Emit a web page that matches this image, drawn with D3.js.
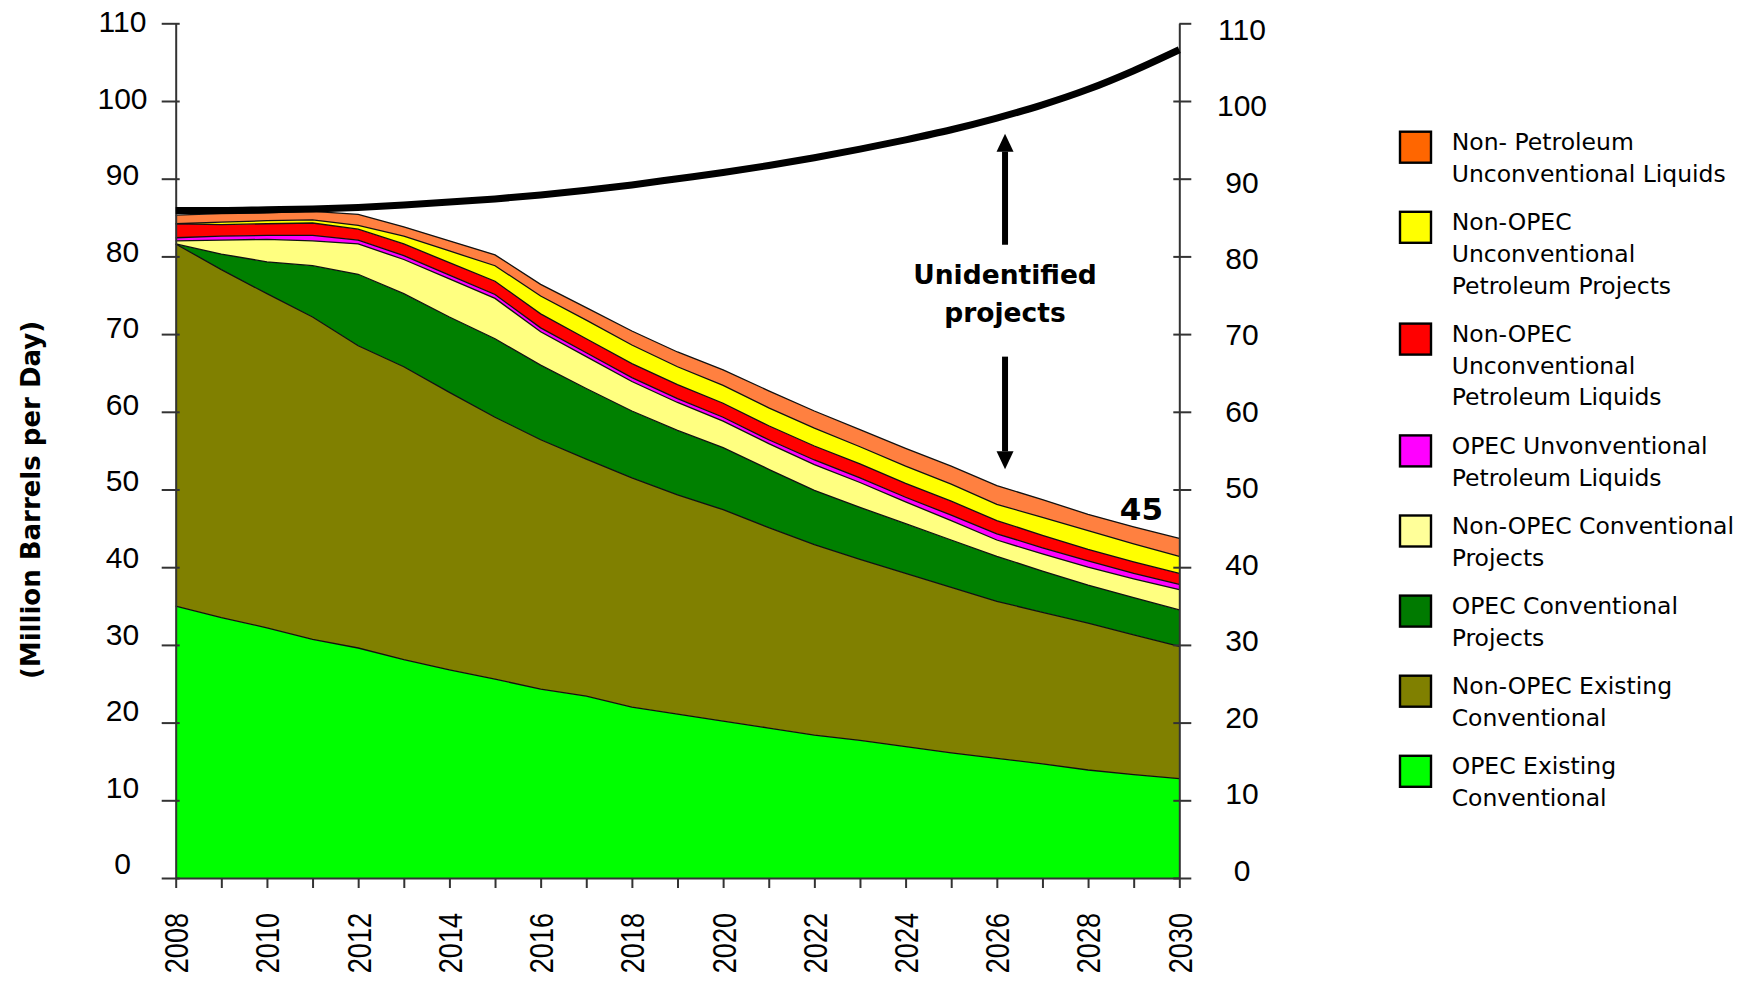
<!DOCTYPE html>
<html><head><meta charset="utf-8">
<script src="https://cdn.jsdelivr.net/npm/d3@7"></script>
<style>
html,body{margin:0;padding:0;background:#fff;}
svg{display:block;}
</style></head>
<body>
<svg id="chart" width="1754" height="982"></svg>
<script>
// ---------- DATA ----------
const years = [2008,2009,2010,2011,2012,2013,2014,2015,2016,2017,2018,2019,2020,2021,2022,2023,2024,2025,2026,2027,2028,2029,2030];
// stacked from bottom to top (million barrels per day)
const opecExisting        = [35.0,33.5,32.2,30.7,29.6,28.1,26.8,25.6,24.3,23.4,22.0,21.1,20.2,19.3,18.4,17.7,16.9,16.1,15.4,14.7,13.9,13.3,12.8];
const nonOpecExisting     = [46.6,44.8,43.0,41.5,38.9,37.7,35.7,33.7,32.1,30.5,29.5,28.2,27.2,25.8,24.5,23.3,22.3,21.3,20.2,19.5,18.9,18.0,17.0];
const opecConvProjects    = [0.0,2.0,4.1,6.6,9.2,9.4,9.7,10.1,9.6,9.1,8.6,8.3,8.0,7.5,7.0,6.7,6.4,6.1,5.8,5.3,4.9,4.8,4.7];
const nonOpecConvProjects = [0.4,1.8,2.9,3.2,3.9,4.4,4.9,5.2,4.3,4.1,3.8,3.6,3.4,3.3,3.3,3.2,2.8,2.5,2.1,2.2,2.3,2.4,2.6];
const opecUnconvLiquids   = [0.4,0.5,0.5,0.7,0.5,0.5,0.5,0.5,0.5,0.5,0.5,0.5,0.5,0.5,0.6,0.6,0.6,0.7,0.8,0.8,0.8,0.7,0.7];
const nonOpecUnconvLiquids= [1.8,1.5,1.5,1.6,1.4,1.5,1.6,1.7,1.8,1.8,1.8,1.8,1.8,1.8,1.8,1.8,1.8,1.8,1.7,1.6,1.5,1.5,1.4];
const nonOpecUnconvProjects=[0.0,0.3,0.4,0.4,0.5,1.0,1.5,2.0,2.3,2.4,2.4,2.3,2.3,2.3,2.3,2.2,2.2,2.2,2.1,2.3,2.4,2.3,2.2];
const nonPetroleumUnconv  = [1.1,1.1,1.0,1.1,1.4,1.2,1.3,1.4,1.5,1.6,1.8,1.9,2.0,2.2,2.2,2.2,2.3,2.3,2.4,2.3,2.1,2.2,2.3];
// demand curve
const demand = [85.9,85.9,86.0,86.1,86.3,86.6,87.0,87.4,87.9,88.5,89.2,90.0,90.8,91.7,92.7,93.8,95.0,96.3,97.8,99.5,101.5,103.9,106.6];

const seriesKeys = ["opecExisting","nonOpecExisting","opecConvProjects","nonOpecConvProjects","opecUnconvLiquids","nonOpecUnconvLiquids","nonOpecUnconvProjects","nonPetroleumUnconv"];
const seriesValues = [opecExisting,nonOpecExisting,opecConvProjects,nonOpecConvProjects,opecUnconvLiquids,nonOpecUnconvLiquids,nonOpecUnconvProjects,nonPetroleumUnconv];
const areaColors   = ["#00FF00","#808000","#008000","#FFFF80","#FF00FF","#FF0000","#FFFF00","#FF8040"];
const legendColors = ["#00FF00","#808000","#007A00","#FFFF99","#FF00FF","#FF0000","#FFFF00","#FF6600"];
const legendLabels = [
  ["OPEC Existing","Conventional"],
  ["Non-OPEC Existing","Conventional"],
  ["OPEC Conventional","Projects"],
  ["Non-OPEC Conventional","Projects"],
  ["OPEC Unvonventional","Petroleum Liquids"],
  ["Non-OPEC","Unconventional","Petroleum Liquids"],
  ["Non-OPEC","Unconventional","Petroleum Projects"],
  ["Non- Petroleum","Unconventional Liquids"]
];
const yTickValues = [0,10,20,30,40,50,60,70,80,90,100,110];
const xTickLabels = [2008,2010,2012,2014,2016,2018,2020,2022,2024,2026,2028,2030];
const yTitle = "(Million Barrels per Day)";
const annotationLines = ["Unidentified","projects"];
const endLabel = "45";

// ---------- FONTS ----------
const numFont = "'Liberation Sans',Arial,sans-serif";
const txtFont = "'DejaVu Sans',Verdana,sans-serif";

// ---------- SCALES ----------
const svg = d3.select("#chart");
const x = d3.scaleLinear().domain([2008,2030]).range([175.7,1179.3]);
const y = d3.scaleLinear().domain([0,110]).range([878,23.3]);
const yLabLeft = d3.scaleLinear().domain([0,110]).range([863,20.7]);
const yLabRight = d3.scaleLinear().domain([0,110]).range([869.3,28.3]);

// ---------- STACK ----------
const table = years.map((yr,i)=>{const o={year:yr}; seriesKeys.forEach((k,j)=>o[k]=seriesValues[j][i]); return o;});
const stacked = d3.stack().keys(seriesKeys)(table);

const area = d3.area().x(d=>x(d.data.year)).y0(d=>y(d[0])).y1(d=>y(d[1]));
svg.append("g").selectAll("path").data(stacked).join("path")
  .attr("d",area).attr("fill",(d,i)=>areaColors[i]);
const topLine = d3.line().x(d=>x(d.data.year)).y(d=>y(d[1]));
svg.append("g").selectAll("path").data(stacked).join("path")
  .attr("d",topLine).attr("fill","none").attr("stroke","#111").attr("stroke-width",1.3);

// ---------- AXES ----------
const axL = svg.append("g").attr("transform",`translate(${x(2008)},0)`)
  .call(d3.axisLeft(y).tickValues(yTickValues).tickSizeInner(14).tickSizeOuter(0).tickFormat(""));
axL.selectAll(".tick line").attr("x2",-14).attr("x1",4);
const axR = svg.append("g").attr("transform",`translate(${x(2030)},0)`)
  .call(d3.axisRight(y).tickValues(yTickValues).tickSizeInner(12).tickSizeOuter(0).tickFormat(""));
axR.selectAll(".tick line").attr("x1",d=>d===110?0:-6);
const axB = svg.append("g").attr("transform",`translate(0,${y(0)})`)
  .call(d3.axisBottom(x).tickValues(years).tickSizeInner(10).tickSizeOuter(0).tickFormat(""));
[axL,axR,axB].forEach(g=>{
  g.select(".domain").attr("stroke","#333").attr("stroke-width",2);
  g.selectAll(".tick line").attr("stroke","#333").attr("stroke-width",2);
});

// tick labels
const labL = svg.append("g").attr("transform","translate(122.5,0)")
  .call(d3.axisLeft(yLabLeft).tickValues(yTickValues).tickSize(0).tickFormat(d3.format("d")));
labL.select(".domain").remove();
labL.selectAll("text").attr("x",0).attr("dy","0.36em").style("text-anchor","middle")
  .style("font-family",numFont).style("font-size","30px").attr("fill","#000");
const labR = svg.append("g").attr("transform","translate(1242,0)")
  .call(d3.axisRight(yLabRight).tickValues(yTickValues).tickSize(0).tickFormat(d3.format("d")));
labR.select(".domain").remove();
labR.selectAll("text").attr("x",0).attr("dy","0.36em").style("text-anchor","middle")
  .style("font-family",numFont).style("font-size","30px").attr("fill","#000");
const labB = svg.append("g").attr("transform","translate(0,913)")
  .call(d3.axisBottom(x).tickValues(xTickLabels).tickSize(0).tickFormat(d3.format("d")));
labB.select(".domain").remove();
labB.selectAll("text").attr("x",0).attr("y",0).attr("dy","0.36em").attr("transform","rotate(-90) scale(0.82,1)")
  .style("text-anchor","end").style("font-family",numFont).style("font-size","33px").attr("fill","#000");

// ---------- DEMAND LINE ----------
const demLine = d3.line().x((d,i)=>x(years[i])).y(d=>y(d)).curve(d3.curveMonotoneX);
svg.append("path").datum(demand).attr("d",demLine).attr("fill","none")
  .attr("stroke","#000").attr("stroke-width",7);

// ---------- Y TITLE ----------
svg.append("text").attr("transform","translate(40,500) rotate(-90)")
  .attr("text-anchor","middle").style("font-family",txtFont).style("font-weight","bold")
  .style("font-size","26px").text(yTitle);

// ---------- ANNOTATION ----------
const arrowX = x(2026.18);
function arrow(fromV,toV){
  const y0=y(fromV), y1=y(toV), dir = y1<y0?-1:1, hl=18, hw=8.5;
  svg.append("line").attr("x1",arrowX).attr("x2",arrowX).attr("y1",y0).attr("y2",y1-dir*hl)
    .attr("stroke","#000").attr("stroke-width",6);
  svg.append("path").attr("d",`M${arrowX},${y1} L${arrowX-hw},${y1-dir*hl} L${arrowX+hw},${y1-dir*hl} Z`).attr("fill","#000");
}
arrow(81.5,95.8);
arrow(67.1,52.6);
svg.append("g").selectAll("text").data(annotationLines).join("text")
  .attr("x",arrowX).attr("y",(d,i)=>y(76.5)+i*38.4).attr("text-anchor","middle")
  .style("font-family",txtFont).style("font-weight","bold").style("font-size","26.5px").text(d=>d);
svg.append("text").attr("x",x(2029.17)).attr("y",y(46.1)).attr("text-anchor","middle")
  .style("font-family",txtFont).style("font-weight","bold").style("font-size","31px").text(endLabel);

// ---------- LEGEND ----------
const lineH = 31.7, gap = 16.7;
const items = legendLabels.map((lines,i)=>({lines, color:legendColors[i]})).reverse();
let legendTop = 130.7;
items.forEach(it=>{it.top=legendTop; legendTop += it.lines.length*lineH + gap;});
const lg = svg.append("g").selectAll("g").data(items).join("g")
  .attr("transform",d=>`translate(1399,${d.top})`);
lg.append("rect").attr("x",1).attr("y",1).attr("width",31).attr("height",31)
  .attr("fill",d=>d.color).attr("stroke","#000").attr("stroke-width",2.4);
lg.each(function(d){
  d3.select(this).selectAll("text").data(d.lines).join("text")
    .attr("x",52.7).attr("y",(t,i)=>19.5+i*lineH)
    .style("font-family",txtFont).style("font-size","23.5px").attr("fill","#000").text(t=>t);
});
</script>
</body></html>
